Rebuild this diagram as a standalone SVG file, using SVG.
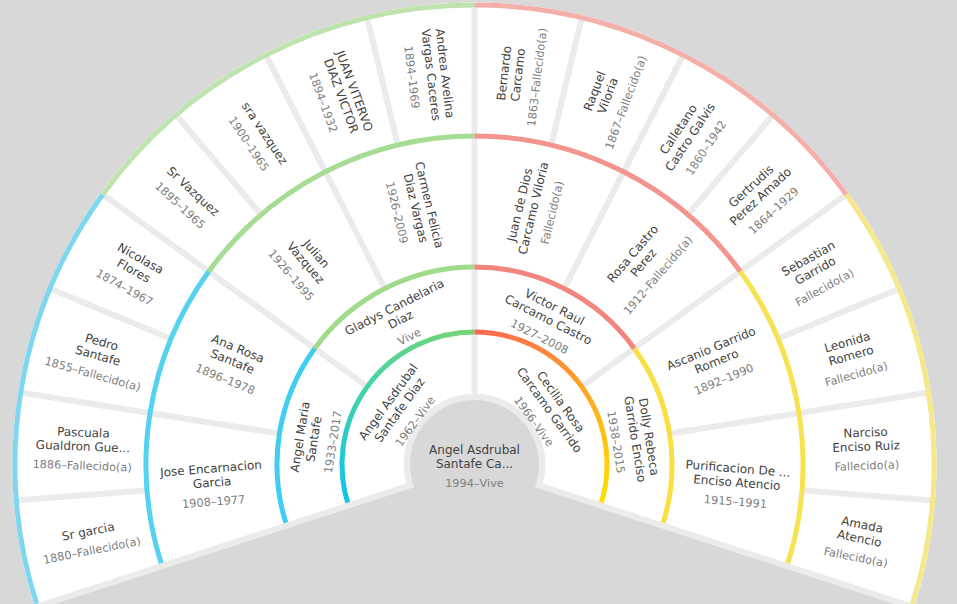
<svg xmlns="http://www.w3.org/2000/svg" width="957" height="604" viewBox="0 0 957 604">
<style>
.n{font-family:"DejaVu Sans","Liberation Sans",sans-serif;font-size:12px;fill:#434343;text-anchor:middle}
.d{font-family:"DejaVu Sans","Liberation Sans",sans-serif;font-size:11.3px;fill:#808080;text-anchor:middle}
.gap{stroke:#ebebeb;stroke-width:6;fill:none}
.arc{fill:none;stroke-width:5}
.cell{fill:#ffffff}
</style>
<defs>
<path id="c4" class="cell" d="M -54.302 -458.797 A 462 462 0 0 1 54.302 -458.797 L 38.905 -328.705 A 331 331 0 0 0 -38.905 -328.705 Z"/>
<path id="c3" class="cell" d="M -77.270 -321.854 A 331 331 0 0 1 77.270 -321.854 L 46.689 -194.474 A 200 200 0 0 0 -46.689 -194.474 Z"/>
<path id="c2" class="cell" d="M -90.798 -178.201 A 200 200 0 0 1 90.798 -178.201 L 61.289 -120.286 A 135 135 0 0 0 -61.289 -120.286 Z"/>
<path id="c1" class="cell" d="M -109.217 -79.351 A 135 135 0 0 1 109.217 -79.351 L 57.440 -41.733 A 71 71 0 0 0 -57.440 -41.733 Z"/>
<path id="a4" d="M -208.608 -409.418 A 459.5 459.5 0 0 1 208.608 -409.418"/>
<path id="a3" d="M -149.136 -292.696 A 328.5 328.5 0 0 1 149.136 -292.696"/>
<path id="a2" d="M -89.663 -175.974 A 197.5 197.5 0 0 1 89.663 -175.974"/>
<linearGradient id="gL" gradientUnits="userSpaceOnUse" x1="-107.195" y1="0" x2="107.195" y2="0">
<stop offset="0" stop-color="#0fc4ea"/><stop offset="0.5" stop-color="#45d4a6"/><stop offset="1" stop-color="#76d474"/>
</linearGradient>
<linearGradient id="gR" gradientUnits="userSpaceOnUse" x1="-107.195" y1="0" x2="107.195" y2="0">
<stop offset="0" stop-color="#ff6652"/><stop offset="0.45" stop-color="#ff9c2c"/><stop offset="1" stop-color="#ffe000"/>
</linearGradient>
</defs>
<rect width="957" height="604" fill="#d8d8d8"/>
<path d="M 474.5 464.5 L 406.975 486.44 A 71 71 0 1 1 542.025 486.44 Z" fill="#ebebeb"/>
<path d="M 35.112 607.266 A 462 462 0 1 1 913.888 607.266 L 542.025 486.44 A 71 71 0 1 0 406.975 486.44 Z" fill="#ffffff"/>

<g id="root">
<circle cx="474.5" cy="464.5" r="64.5" fill="#d8d8d8"/>
<g transform="translate(474.5 466.5)"><text class="n" y="-12.5">Angel Asdrubal</text><text class="n" y="1.5">Santafe Ca...</text><text class="d" y="20.5">1994–Vive</text></g>
</g>

<g id="father" transform="translate(474.5 464.5) rotate(-54)"><use href="#c1"/><g transform="translate(0 -90)"><text class="n" y="-12.5">Angel Asdrubal</text><text class="n" y="1.5">Santafe Diaz</text><text class="d" y="20.5">1962–Vive</text></g></g>
<g id="mother" transform="translate(474.5 464.5) rotate(54)"><use href="#c1"/><g transform="translate(0 -90)"><text class="n" y="-12.5">Cecilia Rosa</text><text class="n" y="1.5">Carcamo Garrido</text><text class="d" y="20.5">1966–Vive</text></g></g>

<g id="angel-maria" transform="translate(474.5 464.5) rotate(-81)"><use href="#c2"/><g transform="translate(0 -160)"><text class="n" y="-12.5">Angel Maria</text><text class="n" y="1.5">Santafe</text><text class="d" y="20.5">1933–2017</text></g></g>
<g id="gladys" transform="translate(474.5 464.5) rotate(-27)"><use href="#c2"/><g transform="translate(0 -160)"><text class="n" y="-12.5">Gladys Candelaria</text><text class="n" y="1.5">Diaz</text><text class="d" y="20.5">Vive</text></g></g>
<g id="victor" transform="translate(474.5 464.5) rotate(27)"><use href="#c2"/><g transform="translate(0 -160)"><text class="n" y="-12.5">Victor Raul</text><text class="n" y="1.5">Carcamo Castro</text><text class="d" y="20.5">1927–2008</text></g></g>
<g id="dolly" transform="translate(474.5 464.5) rotate(81)"><use href="#c2"/><g transform="translate(0 -160)"><text class="n" y="-12.5">Dolly Rebeca</text><text class="n" y="1.5">Garrido Enciso</text><text class="d" y="20.5">1938–2015</text></g></g>

<g id="jose" transform="translate(474.5 464.5) rotate(-94.5)"><use href="#c3"/><g transform="translate(0 -263) rotate(90)"><text class="n" y="-12.5">Jose Encarnacion</text><text class="n" y="1.5">Garcia</text><text class="d" y="20.5">1908–1977</text></g></g>
<g id="ana-rosa" transform="translate(474.5 464.5) rotate(-67.5)"><use href="#c3"/><g transform="translate(0 -263) rotate(90)"><text class="n" y="-12.5">Ana Rosa</text><text class="n" y="1.5">Santafe</text><text class="d" y="20.5">1896–1978</text></g></g>
<g id="julian" transform="translate(474.5 464.5) rotate(-40.5)"><use href="#c3"/><g transform="translate(0 -263) rotate(90)"><text class="n" y="-12.5">Julian</text><text class="n" y="1.5">Vazquez</text><text class="d" y="20.5">1926–1995</text></g></g>
<g id="carmen" transform="translate(474.5 464.5) rotate(-13.5)"><use href="#c3"/><g transform="translate(0 -263) rotate(90)"><text class="n" y="-12.5">Carmen Felicia</text><text class="n" y="1.5">Diaz Vargas</text><text class="d" y="20.5">1926–2009</text></g></g>
<g id="juan-de-dios" transform="translate(474.5 464.5) rotate(13.5)"><use href="#c3"/><g transform="translate(0 -263) rotate(-90)"><text class="n" y="-12.5">Juan de Dios</text><text class="n" y="1.5">Carcamo Viloria</text><text class="d" y="20.5">Fallecido(a)</text></g></g>
<g id="rosa-castro" transform="translate(474.5 464.5) rotate(40.5)"><use href="#c3"/><g transform="translate(0 -263) rotate(-90)"><text class="n" y="-12.5">Rosa Castro</text><text class="n" y="1.5">Perez</text><text class="d" y="20.5">1912–Fallecido(a)</text></g></g>
<g id="ascanio" transform="translate(474.5 464.5) rotate(67.5)"><use href="#c3"/><g transform="translate(0 -263) rotate(-90)"><text class="n" y="-12.5">Ascanio Garrido</text><text class="n" y="1.5">Romero</text><text class="d" y="20.5">1892–1990</text></g></g>
<g id="purificacion" transform="translate(474.5 464.5) rotate(94.5)"><use href="#c3"/><g transform="translate(0 -263) rotate(-90)"><text class="n" y="-12.5">Purificacion De ...</text><text class="n" y="1.5">Enciso Atencio</text><text class="d" y="20.5">1915–1991</text></g></g>

<g id="sr-garcia" transform="translate(474.5 464.5) rotate(-101.25)"><use href="#c4"/><g transform="translate(0 -392) rotate(90)"><text class="n" y="-5.5">Sr garcia</text><text class="d" y="13.5">1880–Fallecido(a)</text></g></g>
<g id="pascuala" transform="translate(474.5 464.5) rotate(-87.75)"><use href="#c4"/><g transform="translate(0 -392) rotate(90)"><text class="n" y="-12.5">Pascuala</text><text class="n" y="1.5">Gualdron Gue...</text><text class="d" y="20.5">1886–Fallecido(a)</text></g></g>
<g id="pedro" transform="translate(474.5 464.5) rotate(-74.25)"><use href="#c4"/><g transform="translate(0 -392) rotate(90)"><text class="n" y="-12.5">Pedro</text><text class="n" y="1.5">Santafe</text><text class="d" y="20.5">1855–Fallecido(a)</text></g></g>
<g id="nicolasa" transform="translate(474.5 464.5) rotate(-60.75)"><use href="#c4"/><g transform="translate(0 -392) rotate(90)"><text class="n" y="-12.5">Nicolasa</text><text class="n" y="1.5">Flores</text><text class="d" y="20.5">1874–1967</text></g></g>
<g id="sr-vazquez" transform="translate(474.5 464.5) rotate(-47.25)"><use href="#c4"/><g transform="translate(0 -392) rotate(90)"><text class="n" y="-5.5">Sr Vazquez</text><text class="d" y="13.5">1895–1965</text></g></g>
<g id="sra-vazquez" transform="translate(474.5 464.5) rotate(-33.75)"><use href="#c4"/><g transform="translate(0 -392) rotate(90)"><text class="n" y="-5.5">sra vazquez</text><text class="d" y="13.5">1900–1965</text></g></g>
<g id="juan-viterovo" transform="translate(474.5 464.5) rotate(-20.25)"><use href="#c4"/><g transform="translate(0 -392) rotate(90)"><text class="n" y="-12.5">JUAN VITERVO</text><text class="n" y="1.5">DIAZ VICTOR</text><text class="d" y="20.5">1894–1932</text></g></g>
<g id="andrea" transform="translate(474.5 464.5) rotate(-6.75)"><use href="#c4"/><g transform="translate(0 -392) rotate(90)"><text class="n" y="-12.5">Andrea Avelina</text><text class="n" y="1.5">Vargas Caceres</text><text class="d" y="20.5">1894–1969</text></g></g>
<g id="bernardo" transform="translate(474.5 464.5) rotate(6.75)"><use href="#c4"/><g transform="translate(0 -392) rotate(-90)"><text class="n" y="-12.5">Bernardo</text><text class="n" y="1.5">Carcamo</text><text class="d" y="20.5">1863–Fallecido(a)</text></g></g>
<g id="raquel" transform="translate(474.5 464.5) rotate(20.25)"><use href="#c4"/><g transform="translate(0 -392) rotate(-90)"><text class="n" y="-12.5">Raquel</text><text class="n" y="1.5">Viloria</text><text class="d" y="20.5">1867–Fallecido(a)</text></g></g>
<g id="calletano" transform="translate(474.5 464.5) rotate(33.75)"><use href="#c4"/><g transform="translate(0 -392) rotate(-90)"><text class="n" y="-12.5">Calletano</text><text class="n" y="1.5">Castro Galvis</text><text class="d" y="20.5">1860–1942</text></g></g>
<g id="gertrudis" transform="translate(474.5 464.5) rotate(47.25)"><use href="#c4"/><g transform="translate(0 -392) rotate(-90)"><text class="n" y="-12.5">Gertrudis</text><text class="n" y="1.5">Perez Amado</text><text class="d" y="20.5">1864–1929</text></g></g>
<g id="sebastian" transform="translate(474.5 464.5) rotate(60.75)"><use href="#c4"/><g transform="translate(0 -392) rotate(-90)"><text class="n" y="-12.5">Sebastian</text><text class="n" y="1.5">Garrido</text><text class="d" y="20.5">Fallecido(a)</text></g></g>
<g id="leonida" transform="translate(474.5 464.5) rotate(74.25)"><use href="#c4"/><g transform="translate(0 -392) rotate(-90)"><text class="n" y="-12.5">Leonida</text><text class="n" y="1.5">Romero</text><text class="d" y="20.5">Fallecido(a)</text></g></g>
<g id="narciso" transform="translate(474.5 464.5) rotate(87.75)"><use href="#c4"/><g transform="translate(0 -392) rotate(-90)"><text class="n" y="-12.5">Narciso</text><text class="n" y="1.5">Enciso Ruiz</text><text class="d" y="20.5">Fallecido(a)</text></g></g>
<g id="amada" transform="translate(474.5 464.5) rotate(101.25)"><use href="#c4"/><g transform="translate(0 -392) rotate(-90)"><text class="n" y="-12.5">Amada</text><text class="n" y="1.5">Atencio</text><text class="d" y="20.5">Fallecido(a)</text></g></g>

<g id="separators" class="gap" transform="translate(474.5 464.5)">
<line x1="0" y1="-71" x2="0" y2="-460"/>
<line x1="0" y1="-135" x2="0" y2="-460" transform="rotate(-54)"/>
<line x1="0" y1="-135" x2="0" y2="-460" transform="rotate(54)"/>
<line x1="0" y1="-200" x2="0" y2="-460" transform="rotate(-81)"/>
<line x1="0" y1="-200" x2="0" y2="-460" transform="rotate(-27)"/>
<line x1="0" y1="-200" x2="0" y2="-460" transform="rotate(27)"/>
<line x1="0" y1="-200" x2="0" y2="-460" transform="rotate(81)"/>
<line x1="0" y1="-331" x2="0" y2="-460" transform="rotate(-94.5)"/>
<line x1="0" y1="-331" x2="0" y2="-460" transform="rotate(-67.5)"/>
<line x1="0" y1="-331" x2="0" y2="-460" transform="rotate(-40.5)"/>
<line x1="0" y1="-331" x2="0" y2="-460" transform="rotate(-13.5)"/>
<line x1="0" y1="-331" x2="0" y2="-460" transform="rotate(13.5)"/>
<line x1="0" y1="-331" x2="0" y2="-460" transform="rotate(40.5)"/>
<line x1="0" y1="-331" x2="0" y2="-460" transform="rotate(67.5)"/>
<line x1="0" y1="-331" x2="0" y2="-460" transform="rotate(94.5)"/>
</g>

<g id="arcs" class="arc" transform="translate(474.5 464.5)">
<use href="#a4" stroke="#7dd7ef" transform="rotate(-81)"/>
<use href="#a4" stroke="#bee3ae" transform="rotate(-27)"/>
<use href="#a4" stroke="#f5afab" transform="rotate(27)"/>
<use href="#a4" stroke="#f6e788" transform="rotate(81)"/>
<use href="#a3" stroke="#55d2f0" transform="rotate(-81)"/>
<use href="#a3" stroke="#a7dc95" transform="rotate(-27)"/>
<use href="#a3" stroke="#f3948e" transform="rotate(27)"/>
<use href="#a3" stroke="#f7e352" transform="rotate(81)"/>
<use href="#a2" stroke="#40cef0" transform="rotate(-81)"/>
<use href="#a2" stroke="#a0da8b" transform="rotate(-27)"/>
<use href="#a2" stroke="#f3857f" transform="rotate(27)"/>
<use href="#a2" stroke="#f7e040" transform="rotate(81)"/>
<path d="M -107.195 -77.882 A 132.5 132.5 0 0 1 107.195 -77.882" stroke="url(#gL)" transform="rotate(-54)"/>
<path d="M -107.195 -77.882 A 132.5 132.5 0 0 1 107.195 -77.882" stroke="url(#gR)" transform="rotate(54)"/>
</g>

<g id="fan-ends" class="gap" transform="translate(474.5 464.5)">
<line x1="0" y1="-64.5" x2="0" y2="-475" transform="rotate(-108)"/>
<line x1="0" y1="-64.5" x2="0" y2="-475" transform="rotate(108)"/>
</g>
</svg>
